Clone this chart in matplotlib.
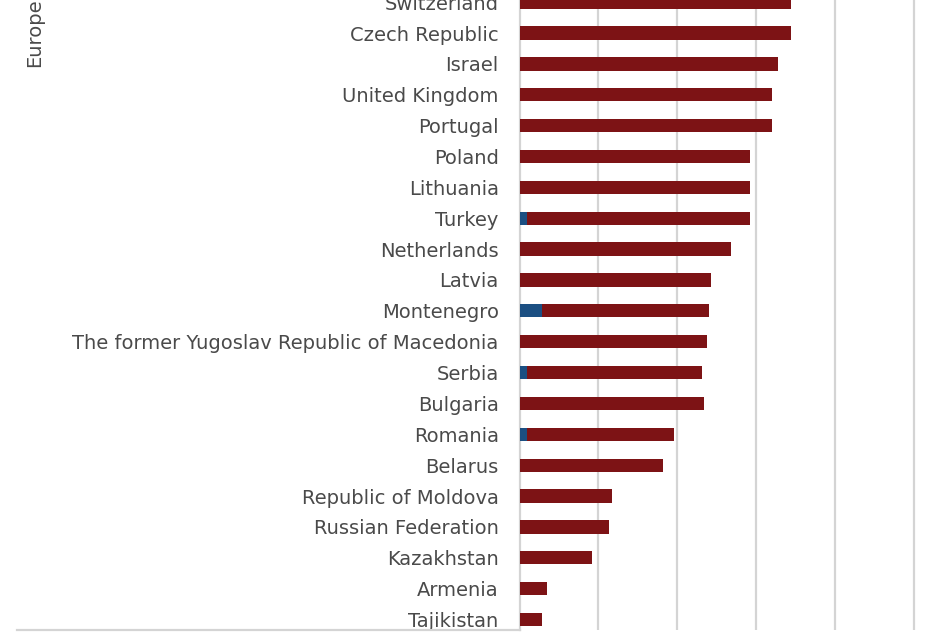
import matplotlib
matplotlib.use('Agg')
import matplotlib.pyplot as plt
from matplotlib.lines import Line2D

# countries, bottom to top
countries = ['Tajikistan', 'Armenia', 'Kazakhstan', 'Russian Federation',
             'Republic of Moldova', 'Belarus', 'Romania', 'Bulgaria', 'Serbia',
             'The former Yugoslav Republic of Macedonia', 'Montenegro', 'Latvia',
             'Netherlands', 'Turkey', 'Lithuania', 'Poland', 'Portugal',
             'United Kingdom', 'Israel', 'Czech Republic', 'Switzerland']

blue = [0, 0, 0, 0, 0, 0, 2.0, 0, 2.0, 0, 5.6, 0, 0, 2.0, 0, 0, 0, 0, 0, 0, 0]
red = [5.6, 7.1, 18.3, 22.6, 23.6, 36.5, 37.3, 46.7, 44.4, 47.5, 42.4, 48.6,
       53.8, 56.4, 58.4, 58.6, 64.0, 64.0, 65.7, 68.8, 69.0]

group_label = 'Europe'

W, H = 949, 632
fig = plt.figure(figsize=(W / 100, H / 100), dpi=100)
ax = fig.add_axes([519.5 / W, 2 / H, 1 - 519.5 / W, 630 / H])

y = list(range(len(countries)))
ax.barh(y, blue, height=0.43, color='#1b4f82', zorder=3)
ax.barh(y, red, left=blue, height=0.43, color='#7d1315', zorder=3)

ax.set_xlim(0, 109)
ax.set_ylim(-0.34, 20.07)
ax.set_xticks([20, 40, 60, 80, 100])
ax.xaxis.grid(True, color='#d4d4d4', lw=1.6, zorder=0)
ax.tick_params(axis='x', length=0, labelbottom=False)
ax.set_yticks(y)
ax.set_yticklabels(countries, fontsize=14, color='#4a4a4a', family='DejaVu Sans')
ax.tick_params(axis='y', length=0, pad=15)
for s in ['top', 'right', 'bottom']:
    ax.spines[s].set_visible(False)
ax.spines['left'].set_color('#d4d4d4')
ax.spines['left'].set_linewidth(1.6)

# group divider line under category labels
fig.add_artist(Line2D([17 / W, 519.5 / W], [2 / H, 2 / H], color='#d4d4d4', lw=1.6))
fig.text(35 / W, 1 - 67 / H, group_label, rotation=90, va='bottom', ha='center',
         fontsize=14, color='#4a4a4a', family='DejaVu Sans')

fig.savefig('out.png', dpi=100)
